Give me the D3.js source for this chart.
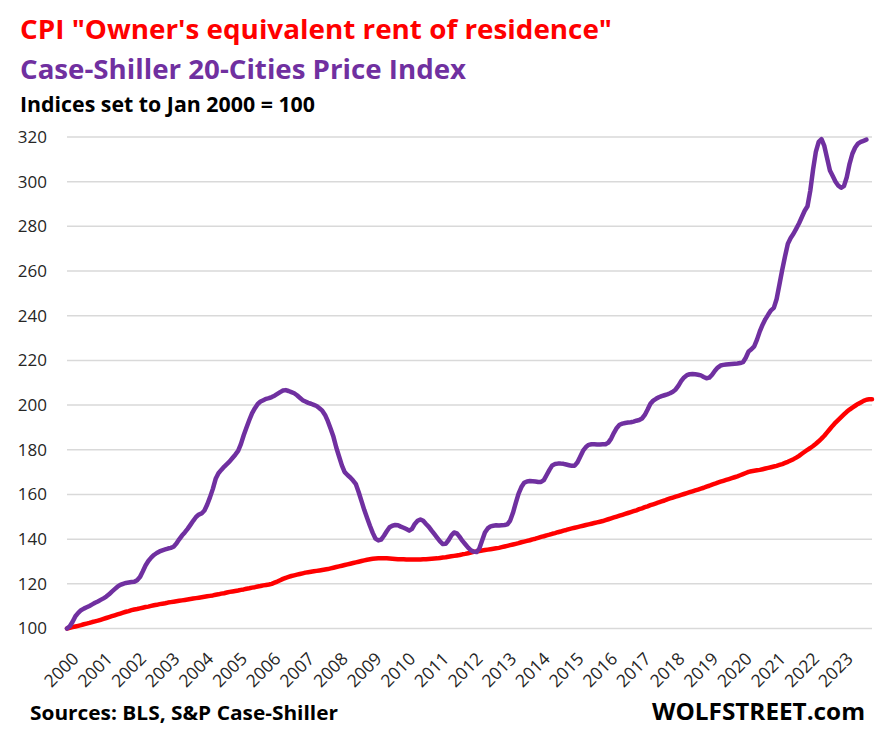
<!DOCTYPE html>
<html>
<head>
<meta charset="utf-8">
<script src="https://cdn.jsdelivr.net/npm/d3@7/dist/d3.min.js"></script>
<style>
  body { margin: 0; background: #fff; }
  svg { font-family: "Open Sans", "Noto Sans", sans-serif; }
</style>
</head>
<body>
<div id="chart"></div>
<script>
// years shown on the category axis (one label every 12 months)
const years = d3.range(2000, 2024)

// Case-Shiller 20-Cities, monthly, Jan 2000 = 100 (through Oct 2023)
const csValues = [
  100.0, 101.0, 103.0, 105.5, 107.0, 108.2, 108.9, 109.5, 110.1, 110.8, 111.5, 112.1, // 2000
  112.8, 113.5, 114.3, 115.3, 116.5, 117.6, 118.7, 119.5, 120.0, 120.4, 120.6, 120.8, // 2001
  120.9, 121.6, 123.0, 125.5, 128.2, 130.2, 131.7, 132.9, 133.8, 134.5, 135.0, 135.4, // 2002
  135.8, 136.1, 136.6, 138.0, 139.9, 141.6, 143.0, 144.6, 146.4, 148.2, 149.9, 151.0, // 2003
  151.5, 152.8, 155.5, 158.8, 162.5, 167.0, 169.5, 171.0, 172.4, 173.6, 174.8, 176.3, // 2004
  177.8, 179.5, 182.5, 186.5, 190.0, 193.3, 196.4, 198.6, 200.5, 201.6, 202.2, 202.8, // 2005
  203.1, 203.6, 204.2, 205.0, 205.8, 206.5, 206.7, 206.3, 205.8, 205.3, 204.4, 203.3, // 2006
  202.2, 201.6, 201.0, 200.6, 200.1, 199.6, 198.6, 197.5, 195.6, 192.8, 189.4, 185.8, // 2007
  181.0, 177.0, 173.0, 170.0, 168.7, 167.6, 166.2, 164.6, 161.0, 157.0, 153.0, 149.5, // 2008
  146.0, 142.8, 140.2, 139.4, 139.8, 141.5, 143.5, 145.3, 146.0, 146.3, 146.2, 145.6, // 2009
  145.1, 144.5, 143.8, 144.6, 146.8, 148.2, 148.8, 148.2, 146.8, 145.5, 143.8, 142.2, // 2010
  140.6, 139.0, 137.8, 137.9, 139.5, 141.6, 143.0, 142.6, 141.0, 139.2, 137.7, 136.2, // 2011
  135.0, 134.4, 134.2, 135.8, 139.4, 143.0, 144.8, 145.7, 146.0, 146.2, 146.1, 146.2, // 2012
  146.3, 146.6, 148.3, 151.8, 156.2, 160.4, 163.3, 165.2, 165.8, 166.0, 165.9, 165.8, // 2013
  165.6, 165.6, 166.4, 168.7, 171.0, 173.0, 173.6, 173.8, 173.8, 173.7, 173.4, 173.1, // 2014
  172.8, 172.9, 174.4, 177.0, 179.6, 181.2, 182.2, 182.5, 182.5, 182.4, 182.4, 182.5, // 2015
  182.5, 183.2, 185.0, 187.6, 189.8, 191.2, 191.7, 192.0, 192.2, 192.3, 192.6, 193.0, // 2016
  193.3, 194.0, 195.6, 198.0, 200.6, 202.0, 202.8, 203.5, 204.0, 204.4, 204.8, 205.3, // 2017
  206.0, 207.0, 208.7, 210.8, 212.4, 213.4, 213.8, 213.9, 213.8, 213.6, 213.3, 212.6, // 2018
  212.0, 212.3, 213.6, 215.4, 216.8, 217.7, 218.0, 218.2, 218.3, 218.4, 218.5, 218.6, // 2019
  218.8, 219.2, 221.2, 224.0, 225.0, 226.3, 229.3, 233.0, 236.0, 238.5, 240.5, 242.4, // 2020
  243.5, 247.5, 254.0, 260.6, 266.6, 272.2, 274.8, 276.7, 279.0, 281.4, 284.2, 287.0, // 2021
  289.0, 296.0, 305.5, 313.5, 317.8, 319.0, 316.0, 310.5, 305.0, 302.5, 300.0, 298.2, // 2022
  297.3, 298.0, 302.0, 308.0, 312.5, 315.3, 317.0, 317.8, 318.3, 318.8                // 2023
]

// CPI Owner's equivalent rent of residence, monthly, Jan 2000 = 100 (through Dec 2023)
const cpiValues = [
  100.0, 100.3, 100.6, 100.9, 101.2, 101.5, 101.9, 102.2, 102.5, 102.9, 103.2, 103.5, // 2000
  103.9, 104.3, 104.7, 105.1, 105.5, 105.9, 106.3, 106.7, 107.1, 107.5, 107.8, 108.2, // 2001
  108.5, 108.7, 109.0, 109.3, 109.6, 109.8, 110.1, 110.4, 110.6, 110.9, 111.1, 111.3, // 2002
  111.6, 111.8, 112.0, 112.2, 112.4, 112.6, 112.8, 113.0, 113.2, 113.4, 113.6, 113.8, // 2003
  114.0, 114.2, 114.4, 114.6, 114.8, 115.1, 115.3, 115.6, 115.8, 116.1, 116.4, 116.6, // 2004
  116.8, 117.0, 117.3, 117.5, 117.8, 118.0, 118.3, 118.5, 118.8, 119.0, 119.3, 119.5, // 2005
  119.7, 120.0, 120.5, 121.0, 121.6, 122.2, 122.7, 123.1, 123.5, 123.8, 124.1, 124.4, // 2006
  124.7, 125.0, 125.2, 125.4, 125.6, 125.8, 126.0, 126.2, 126.4, 126.6, 126.9, 127.2, // 2007
  127.5, 127.8, 128.1, 128.4, 128.7, 129.0, 129.3, 129.6, 129.9, 130.2, 130.5, 130.8, // 2008
  131.0, 131.2, 131.3, 131.4, 131.5, 131.5, 131.4, 131.3, 131.2, 131.1, 131.0, 131.0, // 2009
  131.0, 130.9, 130.9, 130.9, 130.9, 130.9, 130.9, 131.0, 131.0, 131.1, 131.2, 131.3, // 2010
  131.4, 131.6, 131.8, 131.9, 132.1, 132.3, 132.5, 132.7, 132.9, 133.2, 133.4, 133.7, // 2011
  134.0, 134.3, 134.5, 134.7, 134.9, 135.1, 135.3, 135.5, 135.7, 135.9, 136.1, 136.4, // 2012
  136.7, 137.0, 137.3, 137.6, 137.9, 138.2, 138.6, 138.9, 139.2, 139.5, 139.9, 140.2, // 2013
  140.6, 141.0, 141.3, 141.7, 142.0, 142.4, 142.7, 143.1, 143.4, 143.8, 144.1, 144.5, // 2014
  144.8, 145.1, 145.4, 145.7, 146.0, 146.3, 146.6, 146.9, 147.2, 147.5, 147.8, 148.1, // 2015
  148.5, 148.9, 149.3, 149.7, 150.1, 150.5, 150.9, 151.3, 151.7, 152.1, 152.5, 152.9, // 2016
  153.4, 153.8, 154.3, 154.7, 155.2, 155.6, 156.0, 156.5, 156.9, 157.3, 157.8, 158.2, // 2017
  158.6, 159.0, 159.4, 159.8, 160.2, 160.6, 161.0, 161.4, 161.8, 162.2, 162.6, 163.0, // 2018
  163.5, 163.9, 164.4, 164.8, 165.3, 165.7, 166.1, 166.5, 166.9, 167.3, 167.7, 168.1, // 2019
  168.6, 169.1, 169.6, 170.1, 170.4, 170.6, 170.8, 171.0, 171.3, 171.6, 171.9, 172.2, // 2020
  172.5, 172.8, 173.2, 173.6, 174.1, 174.6, 175.2, 175.8, 176.5, 177.3, 178.2, 179.1, // 2021
  180.0, 180.8, 181.7, 182.7, 183.8, 185.0, 186.3, 187.8, 189.3, 190.8, 192.2, 193.4, // 2022
  194.6, 195.8, 197.0, 198.0, 198.9, 199.7, 200.5, 201.2, 201.9, 202.4, 202.6, 202.6  // 2023
]

const yTicks = d3.range(100, 321, 20)

const width = 875, height = 729
const plot = {left: 67, right: 872, top: 137, bottom: 628.5}

// monthly categories, like the spreadsheet's category axis
const months = []
years.forEach(y => d3.range(12).forEach(m => months.push(y + "-" + (m + 1))))

const x = d3.scalePoint().domain(months).range([plot.left, plot.right])
const y = d3.scaleLinear().domain([100, 320]).range([plot.bottom, plot.top])

const svg = d3.select("#chart").append("svg")
    .attr("width", width)
    .attr("height", height)

// horizontal gridlines
svg.append("g")
  .selectAll("line")
  .data(yTicks)
  .enter().append("line")
    .attr("x1", plot.left)
    .attr("x2", plot.right)
    .attr("y1", d => y(d))
    .attr("y2", d => y(d))
    .style("stroke", "#d9d9d9")
    .style("stroke-width", 1.5)

// y axis labels
const yAxis = svg.append("g")
    .attr("transform", "translate(" + (plot.left - 20) + ",0)")
    .call(d3.axisLeft(y).tickValues(yTicks).tickSize(0).tickPadding(0))
yAxis.select(".domain").remove()
yAxis.selectAll("text")
    .style("font-size", "17px")
    .style("fill", "#262626")
    .style("font-family", "'Open Sans', sans-serif")

// x axis labels, rotated
const xAxis = svg.append("g")
    .attr("transform", "translate(0," + (plot.bottom + 24) + ")")
    .call(d3.axisBottom(x).tickValues(years.map(d => d + "-1"))
      .tickFormat(d => d.split("-")[0]).tickSize(0).tickPadding(0))
xAxis.select(".domain").remove()
xAxis.selectAll("text")
    .style("font-size", "17.5px")
    .style("fill", "#262626")
    .style("font-family", "'Open Sans', sans-serif")
    .style("text-anchor", "end")
    .attr("dy", "0.6em")
    .attr("transform", "translate(5,0) rotate(-45)")

const line = d3.line()
    .x((d, i) => x(months[i]))
    .y(d => y(d))

svg.append("path")
    .datum(cpiValues)
    .attr("d", line)
    .style("fill", "none")
    .style("stroke", "#ff0000")
    .style("stroke-width", 4.5)
    .style("stroke-linejoin", "round")
    .style("stroke-linecap", "round")

svg.append("path")
    .datum(csValues)
    .attr("d", line)
    .style("fill", "none")
    .style("stroke", "#7030a0")
    .style("stroke-width", 4.5)
    .style("stroke-linejoin", "round")
    .style("stroke-linecap", "round")

// titles and notes
const texts = [
  {t: "CPI \"Owner's equivalent rent of residence\"", x: 20, y: 39, w: 592, size: 27, color: "#ff0000"},
  {t: "Case-Shiller 20-Cities Price Index", x: 20, y: 79, w: 446, size: 26, color: "#7030a0"},
  {t: "Indices set to Jan 2000 = 100", x: 20, y: 112, w: 295, size: 21, color: "#000"},
  {t: "Sources: BLS, S&P Case-Shiller", x: 30, y: 720, w: 308, size: 20, color: "#000"},
  {t: "WOLFSTREET.com", x: 652, y: 720, w: 213, size: 23, color: "#000"}
]
svg.selectAll(".note")
  .data(texts)
  .enter().append("text")
    .attr("class", "note")
    .attr("x", d => d.x)
    .attr("y", d => d.y)
    .attr("textLength", d => d.w)
    .attr("lengthAdjust", "spacingAndGlyphs")
    .style("font-size", d => d.size + "px")
    .style("font-weight", "bold")
    .style("fill", d => d.color)
    .text(d => d.t)
</script>
</body>
</html>
